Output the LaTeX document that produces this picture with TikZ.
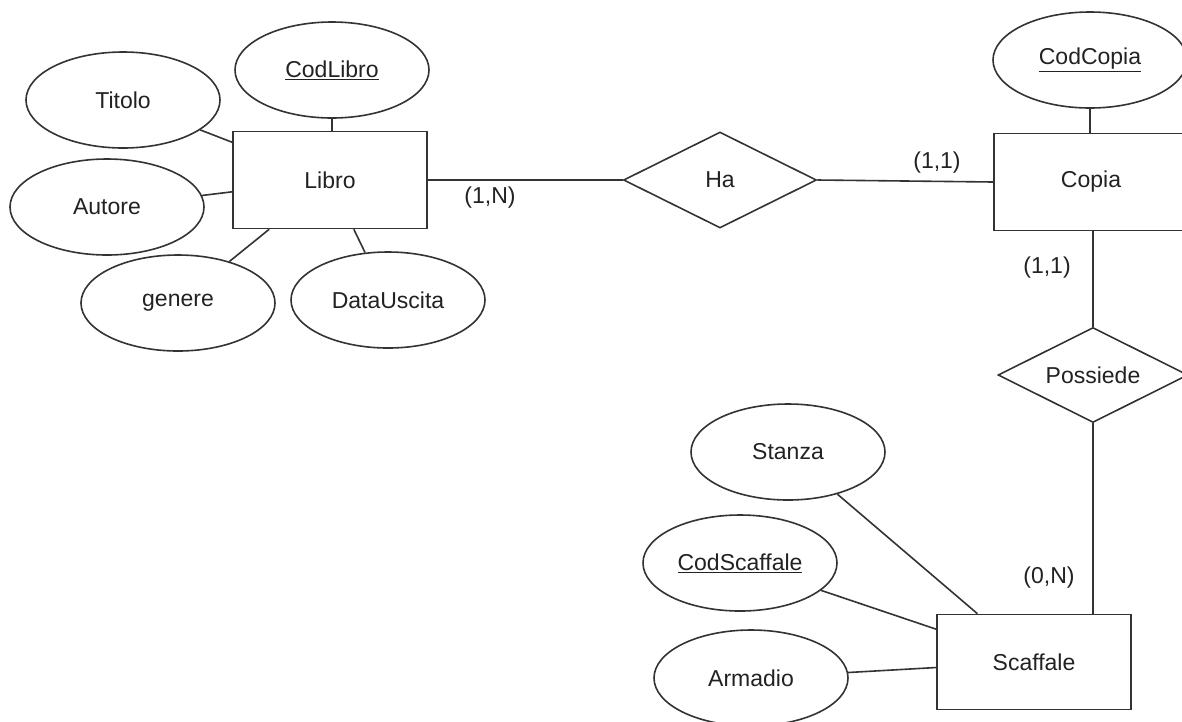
\documentclass[tikz,border=0pt]{standalone}
\usepackage{fontspec}
\setmainfont{Liberation Sans}
\usetikzlibrary{shapes.geometric}
\definecolor{ln}{HTML}{333333}
\definecolor{tx}{HTML}{222222}
\begin{document}
\begin{tikzpicture}[x=1pt,y=-1pt,
  every node/.style={font=\fontsize{23}{27}\selectfont, text=tx},
  attr/.style={draw=ln, line width=1.6pt, ellipse, minimum width=194pt, minimum height=96pt, inner sep=0pt},
  entity/.style={draw=ln, line width=1.6pt, rectangle, minimum width=194pt, minimum height=97pt, inner sep=0pt},
  rel/.style={draw=ln, line width=1.6pt, diamond, aspect=2, minimum width=193pt, minimum height=96pt, inner sep=0pt},
  conn/.style={draw=ln, line width=1.6pt},
  card/.style={inner sep=0pt}]
\useasboundingbox (0,0) rectangle (1182,721);
\clip (0,0) rectangle (1182,721);
\fill[white] (0,0) rectangle (1182,721);
% Libro
\node[entity] (libro) at (330,180) {Libro};
\node[attr] (titolo) at (123,100) {Titolo};
\node[attr] (codlibro) at (332,70) {\underline{CodLibro}};
\node[attr] (autore) at (107,207) {Autore};
\node[attr] (genere) at (178,303) {genere};
\node[attr] (datauscita) at (388,300) {DataUscita};
% Ha
\node[rel] (ha) at (720,180) {Ha};
% Copia
\node[entity] (copia) at (1091,182) {Copia};
\node[attr] (codcopia) at (1090,60) {\underline{CodCopia}};
% Possiede
\node[rel, minimum width=190pt, minimum height=95pt] (possiede) at (1093,375) {Possiede};
% Scaffale
\node[entity, minimum height=95pt] (scaffale) at (1034,662) {Scaffale};
\node[attr] (stanza) at (788,452) {Stanza};
\node[attr] (codscaffale) at (740,563) {\underline{CodScaffale}};
\node[attr] (armadio) at (751,678) {Armadio};
% connectors
\draw[conn] (titolo) -- (libro);
\draw[conn] (codlibro) -- (codlibro.south |- libro.north);
\draw[conn] (autore) -- (libro);
\draw[conn] (genere) -- (libro);
\draw[conn] (datauscita) -- (libro);
\draw[conn] (libro.east) -- (ha.west);
\draw[conn] (ha.east) -- (copia.west);
\draw[conn] (codcopia) -- (codcopia.south |- copia.north);
\draw[conn] (copia.south -| possiede.north) -- (possiede.north);
\draw[conn] (possiede.south) -- (possiede.south |- scaffale.north);
\draw[conn] (stanza) -- (scaffale);
\draw[conn] (codscaffale) -- (scaffale);
\draw[conn] (armadio) -- (scaffale);
% cardinalities
\node[card] (c1) at (490,198) {(1,N)};
\node[card] (c2) at (937,163) {(1,1)};
\node[card] (c3) at (1047,268) {(1,1)};
\node[card] (c4) at (1049,578) {(0,N)};
\end{tikzpicture}
\end{document}
